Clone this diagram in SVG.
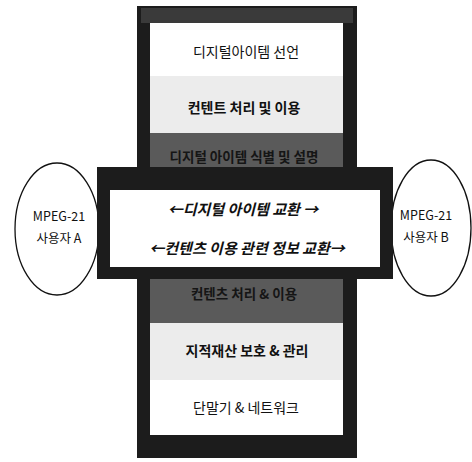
<svg xmlns="http://www.w3.org/2000/svg" width="472" height="462" viewBox="0 0 472 462">
<style>
text{font-family:"Noto Sans CJK KR","Noto Sans",sans-serif;text-anchor:middle;dominant-baseline:central;fill:#111}
.u{font-size:12.5px}
.b{font-size:14px}
.bb{font-size:14px;font-weight:bold}
.g{font-size:13.5px;font-weight:bold;fill:#151515}
.x{font-size:15px;font-style:italic;font-weight:bold}
.dark{fill:#1c1c1c}
.gray{fill:#5a5a5a}
.light{fill:#ececec}
.white{fill:#ffffff}
.ell{fill:#fff;stroke:#111;stroke-width:1.3}
</style>
<rect width="472" height="462" fill="#fff"/>
<g id="userA"><ellipse class="ell" cx="57" cy="229" rx="42" ry="66"/><text class="u" x="59" y="215">MPEG-21</text><text class="u" x="59" y="237">사용자 A</text></g>
<g id="userB"><ellipse class="ell" cx="431" cy="228" rx="40" ry="68"/><text class="u" x="426" y="214">MPEG-21</text><text class="u" x="426" y="236">사용자 B</text></g>
<g id="frame">
<rect class="dark" x="137" y="6" width="220" height="452"/>
<rect x="141" y="8" width="212" height="15" fill="#3a3a3a"/>
</g>
<g id="declaration"><rect class="white" x="150" y="23" width="193" height="53"/><text class="b" x="246" y="51">디지털아이템 선언</text></g>
<g id="handling"><rect class="light" x="150" y="76" width="193" height="57"/><text class="bb" x="244" y="107">컨텐트 처리 및 이용</text></g>
<g id="identification"><rect class="gray" x="150" y="133" width="193" height="60"/><text class="g" x="244" y="156">디지털 아이템 식별 및 설명</text></g>
<g id="representation"><rect class="gray" x="150" y="265" width="193" height="58"/><text class="g" x="244" y="293">컨텐츠 처리 &amp; 이용</text></g>
<g id="ipmp"><rect class="light" x="150" y="323" width="193" height="57"/><text class="bb" x="247" y="350">지적재산 보호 &amp; 관리</text></g>
<g id="terminals"><rect class="white" x="150" y="380" width="193" height="55"/><text class="b" x="246" y="407">단말기 &amp; 네트워크</text></g>
<g id="exchange">
<rect class="dark" x="97" y="167" width="296" height="112"/>
<rect class="white" x="110" y="190" width="270" height="77"/>
<text class="x" x="243" y="208">←디지털 아이템 교환 →</text>
<text class="x" x="247" y="247">←컨텐츠 이용 관련 정보 교환→</text>
</g>
<g id="connectors"/>
</svg>
